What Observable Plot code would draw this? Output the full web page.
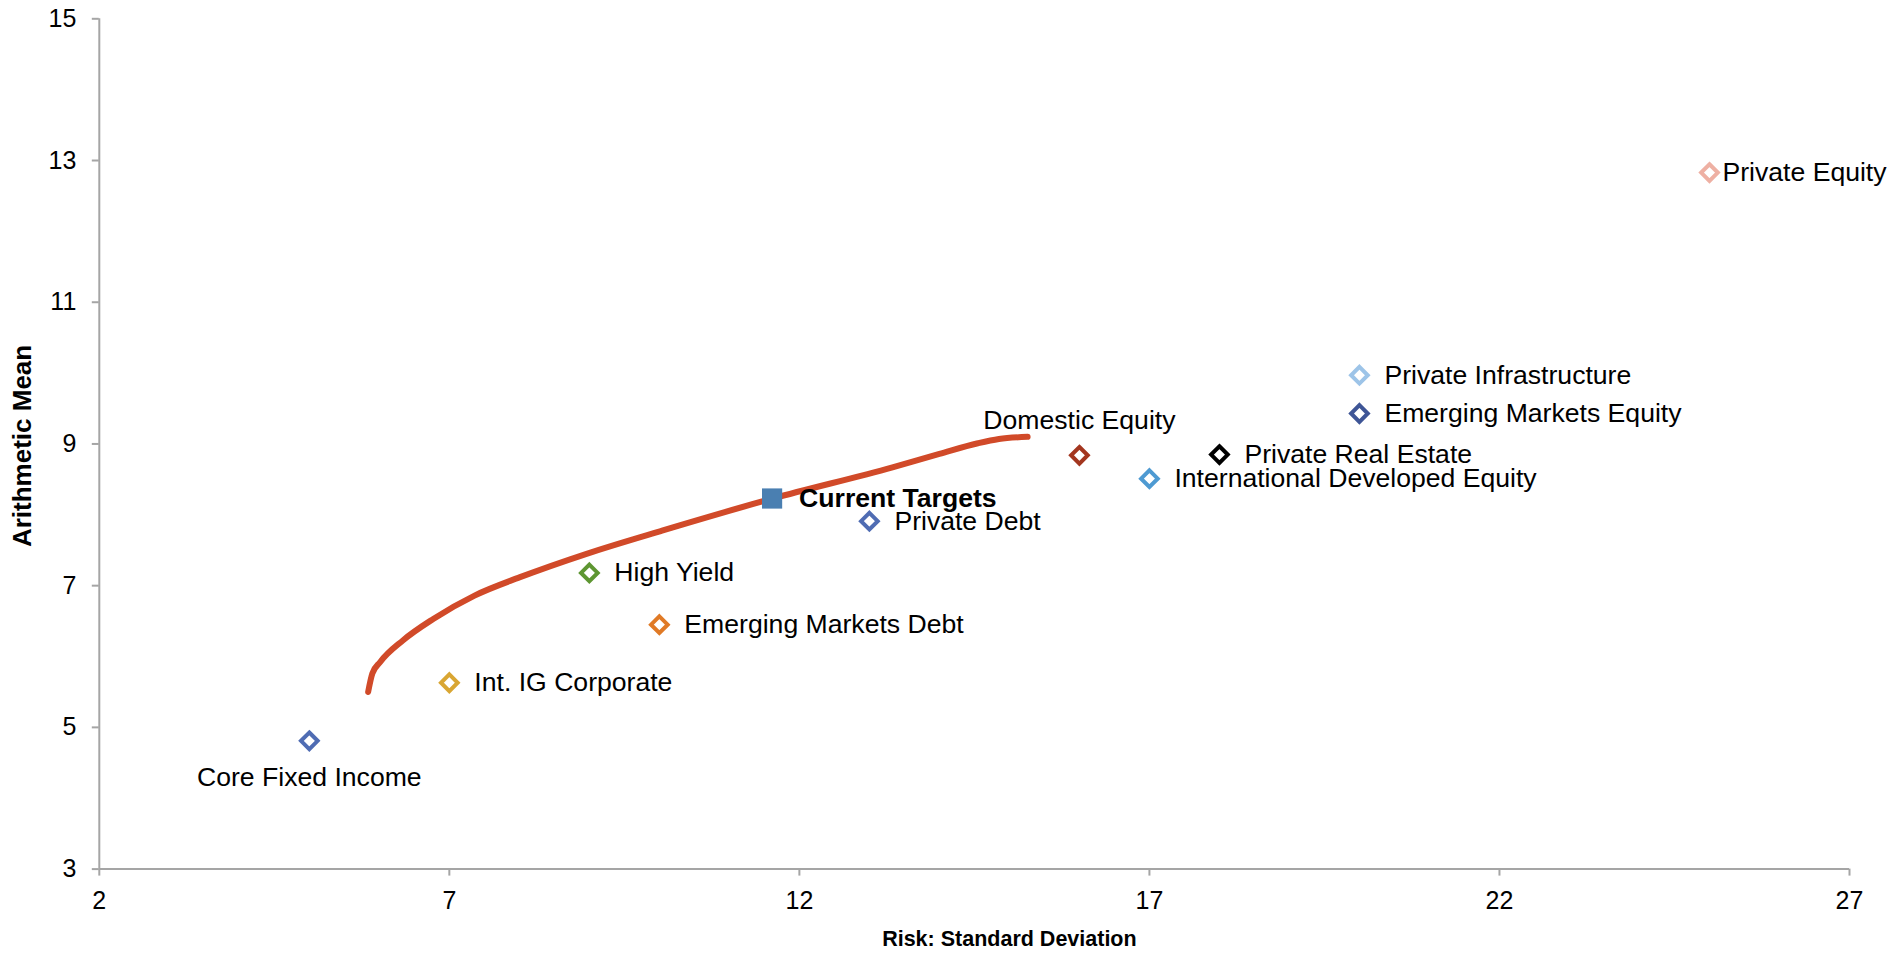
<!DOCTYPE html>
<html>
<head>
<meta charset="utf-8">
<script src="https://cdn.jsdelivr.net/npm/d3@7"></script>
<script src="https://cdn.jsdelivr.net/npm/@observablehq/plot@0.6"></script>
<style>
  html, body { margin: 0; padding: 0; background: #fff; }
  #chart { width: 1889px; height: 953px; }
</style>
</head>
<body>
<div id="chart"></div>
<script>
// ---- Data ----
const assetNames = ["Core Fixed Income", "Int. IG Corporate", "High Yield", "Emerging Markets Debt",
  "Private Debt", "Domestic Equity", "International Developed Equity", "Private Real Estate",
  "Emerging Markets Equity", "Private Infrastructure", "Private Equity"];
const assetRisk = [5.0, 7.0, 9.0, 10.0, 13.0, 16.0, 17.0, 18.0, 20.0, 20.0, 25.0];
const assetReturn = [4.81, 5.63, 7.18, 6.45, 7.91, 8.84, 8.51, 8.85, 9.43, 9.97, 12.83];
const assetColors = ["#4F6CB3", "#D9A633", "#5E9632", "#E07A26", "#4F6CB3", "#A3361F",
  "#4E9AD2", "#000000", "#3E5596", "#9DC4E8", "#EEB0A3"];

const targetName = ["Current Targets"];
const targetRisk = [11.61];
const targetReturn = [8.23];

const frontierRisk = [5.84, 5.90, 6.01, 6.34, 6.77, 7.36, 8.01, 8.96, 10.05, 11.62, 13.33, 14.0, 14.55, 14.85, 15.26];
const frontierReturn = [5.50, 5.76, 5.92, 6.23, 6.53, 6.86, 7.12, 7.45, 7.78, 8.23, 8.67, 8.86, 9.01, 9.07, 9.10];

const xTicks = [2, 7, 12, 17, 22, 27];
const yTicks = [3, 5, 7, 9, 11, 13, 15];

// ---- Tables ----
const assets = assetNames.map((name, i) => ({name, risk: assetRisk[i], ret: assetReturn[i]}));
const targets = targetName.map((name, i) => ({name, risk: targetRisk[i], ret: targetReturn[i]}));
const frontier = frontierRisk.map((r, i) => ({risk: r, ret: frontierReturn[i]}));

const below = new Set(["Core Fixed Income"]);
const above = new Set(["Domestic Equity"]);
const close = new Set(["Private Equity"]);
const rightLabels = assets.filter(d => !below.has(d.name) && !above.has(d.name) && !close.has(d.name));

const axisGray = "#A5A5A5";
const font = "'Liberation Sans', Arial, Helvetica, sans-serif";
const labelSize = 26.6;

const chart = Plot.plot({
  width: 1889,
  height: 953,
  marginLeft: 98.8,
  marginRight: 40,
  marginTop: 18.3,
  marginBottom: 84.4,
  x: {domain: [2, 27]},
  y: {domain: [3, 15]},
  color: {domain: assetNames, range: assetColors},
  style: {fontFamily: font, fontSize: "26px", color: "#000", background: "#fff", overflow: "visible"},
  marks: [
    Plot.axisX({ticks: xTicks, tickSize: 7, tickPadding: 15, stroke: axisGray, strokeWidth: 2,
      fill: "#000", fontSize: 25, label: null}),
    Plot.axisY({ticks: yTicks, tickSize: 7, tickPadding: 16, stroke: axisGray, strokeWidth: 2,
      fill: "#000", fontSize: 25, label: null}),
    Plot.ruleX([2], {stroke: axisGray, strokeWidth: 2}),
    Plot.ruleY([3], {stroke: axisGray, strokeWidth: 2}),
    Plot.text(["Risk: Standard Deviation"], {frameAnchor: "bottom", text: d => d, dy: 77, dx: 35,
      textAnchor: "middle", fontWeight: "bold", fontSize: 21.5}),
    Plot.text(["Arithmetic Mean"], {frameAnchor: "left", text: d => d, rotate: -90, dx: -77, dy: 2,
      textAnchor: "middle", fontWeight: "bold", fontSize: 26}),
    Plot.line(frontier, {x: "risk", y: "ret", stroke: "#D14A29", strokeWidth: 6,
      strokeLinecap: "round", strokeLinejoin: "round", curve: "monotone-x"}),
    Plot.dot(assets, {x: "risk", y: "ret", symbol: "diamond2", r: 7.5, stroke: "name",
      fill: "#fff", strokeWidth: 4}),
    Plot.dot(targets, {x: "risk", y: "ret", symbol: "square", r: 11.4, fill: "#4A7FB1"}),
    Plot.text(rightLabels, {x: "risk", y: "ret", text: "name", textAnchor: "start", dx: 25, fontSize: labelSize}),
    Plot.text(assets.filter(d => close.has(d.name)), {x: "risk", y: "ret", text: "name",
      textAnchor: "start", dx: 13, fontSize: labelSize}),
    Plot.text(assets.filter(d => below.has(d.name)), {x: "risk", y: "ret", text: "name",
      textAnchor: "middle", dy: 37, fontSize: labelSize}),
    Plot.text(assets.filter(d => above.has(d.name)), {x: "risk", y: "ret", text: "name",
      textAnchor: "middle", dy: -35, fontSize: labelSize}),
    Plot.text(targets, {x: "risk", y: "ret", text: "name", textAnchor: "start", dx: 27,
      fontWeight: "bold", fontSize: labelSize})
  ]
});
document.getElementById("chart").append(chart);
</script>
</body>
</html>
